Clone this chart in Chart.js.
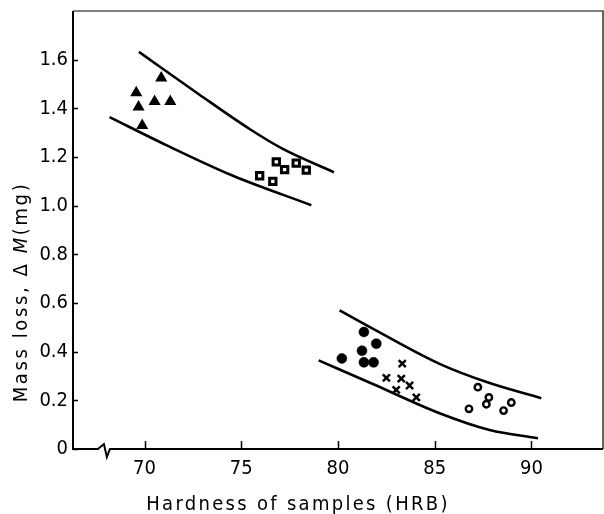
<!DOCTYPE html>
<html>
<head>
<meta charset="utf-8">
<script src="https://cdn.jsdelivr.net/npm/chart.js@4.4.0/dist/chart.umd.min.js"></script>
<style>
  html, body { margin: 0; padding: 0; background: #fff; }
</style>
</head>
<body>
<canvas id="chart" width="604" height="514"></canvas>
<script>
// Perte de masse en fonction de la dureté (HRB) - figure scannée refaite avec Chart.js
// Valeurs lues à l'oeil sur l'image d'origine

const xTicks = [70, 75, 80, 85, 90];
const yTicks = [0, 0.2, 0.4, 0.6, 0.8, 1.0, 1.2, 1.4, 1.6];
const yTickLabels = ['0', '0.2', '0.4', '0.6', '0.8', '1.0', '1.2', '1.4', '1.6'];
const xAxisBreak = 68;

const xTitle = 'Hardness of samples (HRB)';
const yTitleStart = 'Mass loss, \u0394 ';
const yTitleItalic = 'M';
const yTitleEnd = '(mg)';

// Points de mesure (5 groupes d'échantillons)
const triangleX = [70.86, 69.57, 69.69, 70.52, 71.33, 69.88];
const triangleY = [1.525, 1.464, 1.405, 1.428, 1.428, 1.329];
const squareX = [76.81, 77.84, 77.24, 78.36, 75.95, 76.63];
const squareY = [1.18, 1.175, 1.148, 1.146, 1.123, 1.10];
const dotX = [81.34, 81.98, 81.24, 80.20, 81.34, 81.84];
const dotY = [0.481, 0.433, 0.404, 0.372, 0.356, 0.356];
const crossX = [83.32, 82.50, 83.27, 83.70, 83.01, 84.05];
const crossY = [0.351, 0.292, 0.289, 0.261, 0.243, 0.212];
const ringX = [87.23, 86.77, 87.80, 87.67, 88.96, 88.56];
const ringY = [0.254, 0.165, 0.212, 0.184, 0.191, 0.158];

// Enveloppes (courbes tracées à la main sur la figure)
const bandAUpperX = [69.71, 72.84, 75.43, 77.15, 79.79];
const bandAUpperY = [1.632, 1.456, 1.315, 1.233, 1.137];
const bandALowerX = [68.19, 71.12, 74.57, 78.62];
const bandALowerY = [1.364, 1.249, 1.123, 1.002];
const bandBUpperX = [80.08, 81.63, 85.25, 87.84, 90.51];
const bandBUpperY = [0.570, 0.502, 0.350, 0.271, 0.209];
const bandBLowerX = [79.00, 81.89, 85.25, 87.84, 90.34];
const bandBLowerY = [0.364, 0.264, 0.147, 0.078, 0.044];

const FONT = "'DejaVu Sans Condensed', 'DejaVu Sans', sans-serif";

const zip = (xs, ys) => xs.map((x, i) => ({ x, y: ys[i] }));

function markers(xs, ys, style) {
    return Object.assign({
        data: zip(xs, ys),
        showLine: false,
        borderColor: '#000',
        backgroundColor: '#000',
        pointHoverRadius: 0
    }, style);
}

function envelope(xs, ys) {
    return {
        data: zip(xs, ys),
        showLine: true,
        borderColor: '#000',
        borderWidth: 2.6,
        pointRadius: 0,
        cubicInterpolationMode: 'monotone',
        fill: false
    };
}

// Cadre, graduations vers l'intérieur, coupure d'axe et titres d'axes
const frameAndTitles = {
    id: 'frameAndTitles',
    afterDraw(chart) {
        const { ctx, chartArea: a, scales: { x, y } } = chart;
        const seg = (x1, y1, x2, y2) => { ctx.beginPath(); ctx.moveTo(x1, y1); ctx.lineTo(x2, y2); ctx.stroke(); };
        ctx.save();
        ctx.strokeStyle = '#000';

        ctx.lineWidth = 2;
        ctx.beginPath();
        ctx.moveTo(a.left, a.top);
        ctx.lineTo(a.left, a.bottom);
        ctx.lineTo(a.right, a.bottom);
        ctx.stroke();
        ctx.lineWidth = 1.2;
        ctx.beginPath();
        ctx.moveTo(a.left, a.top);
        ctx.lineTo(a.right, a.top);
        ctx.lineTo(a.right, a.bottom);
        ctx.stroke();

        ctx.lineWidth = 1.5;
        xTicks.forEach(v => {
            const px = Math.round(x.getPixelForValue(v)) + 0.5;
            seg(px, a.bottom, px, a.bottom - 8);
        });
        yTicks.forEach(v => {
            const py = Math.round(y.getPixelForValue(v)) + 0.5;
            seg(a.left, py, a.left + 5, py);
        });

        // coupure de l'axe des x
        const bx = x.getPixelForValue(xAxisBreak);
        ctx.fillStyle = '#fff';
        ctx.fillRect(bx - 7, a.bottom - 2, 11, 4);
        ctx.lineWidth = 2;
        ctx.beginPath();
        ctx.moveTo(bx - 8, a.bottom);
        ctx.lineTo(bx - 2, a.bottom - 5);
        ctx.lineTo(bx + 1, a.bottom + 8);
        ctx.lineTo(bx + 4, a.bottom);
        ctx.lineTo(bx + 6, a.bottom);
        ctx.stroke();

        // titres (espacement des lettres élargi comme sur le scan)
        ctx.fillStyle = '#000';
        ctx.font = '20px ' + FONT;
        ctx.letterSpacing = '2.3px';
        ctx.textBaseline = 'alphabetic';
        ctx.textAlign = 'center';
        ctx.fillText(xTitle, 298, 510);

        ctx.letterSpacing = '2.6px';
        ctx.translate(27, 292);
        ctx.rotate(-Math.PI / 2);
        ctx.textAlign = 'left';
        const italicFont = 'italic 20px ' + FONT;
        const w1 = ctx.measureText(yTitleStart).width;
        ctx.font = italicFont;
        const w2 = ctx.measureText(yTitleItalic).width;
        ctx.font = '20px ' + FONT;
        const w3 = ctx.measureText(yTitleEnd).width;
        let cx = -(w1 + w2 + w3) / 2;
        ctx.fillText(yTitleStart, cx, 0);
        cx += w1;
        ctx.font = italicFont;
        ctx.fillText(yTitleItalic, cx, 0);
        cx += w2;
        ctx.font = '20px ' + FONT;
        ctx.fillText(yTitleEnd, cx, 0);
        ctx.restore();
    }
};

new Chart(document.getElementById('chart'), {
    type: 'scatter',
    data: {
        datasets: [
            envelope(bandAUpperX, bandAUpperY),
            envelope(bandALowerX, bandALowerY),
            envelope(bandBUpperX, bandBUpperY),
            envelope(bandBLowerX, bandBLowerY),
            markers(triangleX, triangleY, { pointStyle: 'triangle', pointRadius: 5.5, borderWidth: 1.5 }),
            markers(squareX, squareY, { pointStyle: 'rect', pointRadius: 4.5, borderWidth: 3, backgroundColor: '#fff' }),
            markers(dotX, dotY, { pointStyle: 'circle', pointRadius: 5, borderWidth: 0.5 }),
            markers(crossX, crossY, { pointStyle: 'crossRot', pointRadius: 5, borderWidth: 2.5 }),
            markers(ringX, ringY, { pointStyle: 'circle', pointRadius: 3.2, borderWidth: 2.4, backgroundColor: '#fff' })
        ]
    },
    options: {
        responsive: false,
        animation: false,
        events: [],
        layout: { autoPadding: false, padding: { top: 11, right: 1, left: 0, bottom: 0 } },
        plugins: { legend: { display: false }, tooltip: { enabled: false } },
        scales: {
            x: {
                type: 'linear',
                min: 66.3,
                max: 93.7,
                afterBuildTicks: scale => { scale.ticks = xTicks.map(v => ({ value: v })); },
                afterFit: scale => {
                    scale.height = 65;
                    scale.paddingLeft = 0;
                    scale.paddingRight = 0;
                },
                grid: { display: false, drawTicks: false },
                border: { display: false },
                ticks: { color: '#000', padding: 8, maxRotation: 0, font: { family: FONT, size: 20 } }
            },
            y: {
                type: 'linear',
                min: 0,
                max: 1.8,
                afterBuildTicks: scale => { scale.ticks = yTicks.map(v => ({ value: v })); },
                afterFit: scale => {
                    scale.width = 73;
                    scale.paddingTop = 0;
                    scale.paddingBottom = 0;
                },
                grid: { display: false, drawTicks: false },
                border: { display: false },
                ticks: {
                    color: '#000',
                    padding: 5,
                    font: { family: FONT, size: 20 },
                    callback: (v, i) => yTickLabels[i]
                }
            }
        }
    },
    plugins: [frameAndTitles]
});
</script>
</body>
</html>
